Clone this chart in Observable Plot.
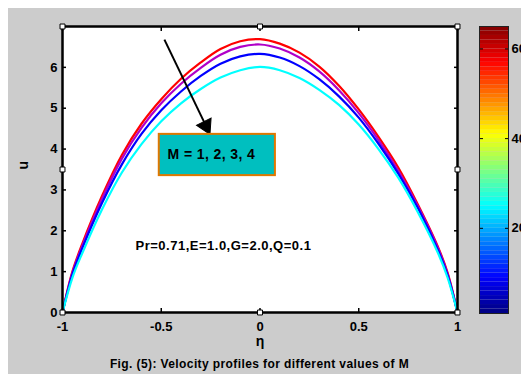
<!DOCTYPE html>
<html><head><meta charset="utf-8">
<script src="https://cdn.jsdelivr.net/npm/d3@7"></script>
<script src="https://cdn.jsdelivr.net/npm/@observablehq/plot@0.6"></script>
<style>
html,body{margin:0;padding:0;background:#fff;}
#wrap{position:relative;width:521px;height:378px;overflow:hidden;background:#fff;font-family:"Liberation Sans",Arial,sans-serif;}
#bg{position:absolute;left:8px;top:8px;width:513px;height:366px;background:#cccccc;}
#main,#cbar{position:absolute;top:0;}
#main{left:0;}
#cbar{left:479px;}
#cap{position:absolute;left:0;width:519px;top:357px;text-align:center;font-weight:bold;font-size:12px;letter-spacing:0.4px;color:#000;}
</style></head><body>
<div id="wrap"><div id="bg"></div><div id="main"></div><div id="cbar"></div><div id="cap">Fig. (5): Velocity profiles for different values of M</div></div>
<script>
// ---- data ----
const eta = [-1,-0.95,-0.9,-0.8,-0.7,-0.6,-0.5,-0.4,-0.3,-0.2,-0.1,0,0.1,0.2,0.3,0.4,0.5,0.6,0.7,0.8,0.9,0.95,1];
const uM1 = [0,1.00,1.68,2.85,3.85,4.62,5.22,5.72,6.12,6.45,6.64,6.69,6.58,6.36,6.02,5.55,4.97,4.30,3.55,2.64,1.62,0.97,0];
const uM2 = [0,0.97,1.63,2.78,3.76,4.52,5.12,5.60,5.99,6.31,6.50,6.56,6.46,6.24,5.90,5.44,4.88,4.22,3.47,2.60,1.59,0.94,0];
const uM3 = [0,0.93,1.57,2.68,3.62,4.37,4.95,5.41,5.79,6.09,6.27,6.33,6.24,6.03,5.71,5.29,4.77,4.13,3.40,2.55,1.54,0.91,0];
const uM4 = [0,0.85,1.45,2.52,3.42,4.12,4.68,5.12,5.47,5.75,5.93,6.01,5.93,5.74,5.45,5.08,4.60,4.00,3.30,2.45,1.47,0.85,0];
const seriesNames = ["M=1","M=2","M=3","M=4"];
const seriesColors = ["#ff0000","#b000c8","#0000ff","#00ffff"];
const xTicks = [-1,-0.5,0,0.5,1];
const yTicks = [0,1,2,3,4,5,6];
const cbarTicks = [20,40,60];
const boxLabel = "M = 1, 2, 3, 4";
const paramLabel = "Pr=0.71,E=1.0,G=2.0,Q=0.1";
// annotation anchor positions (data units)
const arrowPos = [{x1:-0.484,y1:6.68,x2:-0.262,y2:4.45}];
const boxPos = [{x1:-0.51,x2:0.078,y1:3.35,y2:4.36}];
const boxTextPos = [{x:-0.468,y:3.86}];
const paramPos = [{x:-0.185,y:1.64}];

const values = [uM1,uM2,uM3,uM4];
const font = '"Liberation Sans", Arial, sans-serif';
const lineMarks = values.map((v,k)=>Plot.line(eta.map((e,i)=>({eta:e,u:v[i]})),
  {x:"eta",y:"u",stroke:seriesColors[k],strokeWidth:2.2,curve:"catmull-rom"}));

const xd=[-1,1], yd=[0,7];
const handles=[];
[xd[0],(xd[0]+xd[1])/2,xd[1]].forEach(x=>[yd[0],(yd[0]+yd[1])/2,yd[1]].forEach(y=>{
  if(!(x===(xd[0]+xd[1])/2 && y===(yd[0]+yd[1])/2)) handles.push({x,y});}));

const blank=()=>"";
const main = Plot.plot({
  width:521,height:378,marginLeft:62,marginRight:64,marginTop:26,marginBottom:66,
  x:{domain:xd}, y:{domain:yd},
  style:{background:"transparent",fontFamily:font,fontWeight:"bold",fontSize:"13px",color:"black",overflow:"visible"},
  marks:[
    Plot.frame({fill:"white"}),
    ...lineMarks,
    Plot.axisX(xTicks,{anchor:"bottom",tickSize:0,tickPadding:9,tickFormat:d=>String(d),label:null,fontSize:13}),
    Plot.axisX(xTicks,{anchor:"bottom",tickSize:-4,tickFormat:blank,label:null,strokeWidth:1.5}),
    Plot.axisX(xTicks,{anchor:"top",tickSize:-4,tickFormat:blank,label:null,strokeWidth:1.5}),
    Plot.axisY(yTicks,{anchor:"left",tickSize:0,tickPadding:5,label:null,fontSize:13}),
    Plot.axisY(yTicks,{anchor:"left",tickSize:-4,tickFormat:blank,label:null,strokeWidth:1.5}),
    Plot.axisY(yTicks,{anchor:"right",tickSize:-4,tickFormat:blank,label:null,strokeWidth:1.5}),
    Plot.frame({stroke:"black",strokeWidth:2.5}),
    Plot.text(["η"],{frameAnchor:"bottom",dy:33,fontSize:14,fontWeight:"bold"}),
    Plot.text(["u"],{frameAnchor:"left",dx:-39,rotate:-90,fontSize:14,fontWeight:"bold"}),
    Plot.link(arrowPos,{x1:"x1",y1:"y1",x2:"x2",y2:"y2",stroke:"black",strokeWidth:2}),
    Plot.dot(arrowPos,{x:"x2",y:"y2",symbol:"triangle",r:6,rotate:154,fill:"black",stroke:"black",strokeWidth:1,dx:-2.4,dy:-4.8}),
    Plot.rect(boxPos,{x1:"x1",x2:"x2",y1:"y1",y2:"y2",fill:"#00bfbf",stroke:"#e07800",strokeWidth:2}),
    Plot.text(boxTextPos,{x:"x",y:"y",text:()=>boxLabel,textAnchor:"start",fontSize:14,fontWeight:"bold",className:"boxlbl"}),
    Plot.text(paramPos,{x:"x",y:"y",text:()=>paramLabel,fontSize:13,fontWeight:"bold",className:"paramlbl"}),
    Plot.dot(handles,{x:"x",y:"y",symbol:"square",r:2.8,fill:"white",stroke:"black",strokeWidth:1})
  ]
});
document.getElementById("main").appendChild(main);
d3.select(main).selectAll(".boxlbl text").attr("letter-spacing","0.4px");
d3.select(main).selectAll(".paramlbl text").attr("letter-spacing","0.5px");

// colorbar (jet colormap, 64 levels from 1 to 65)
function jet(t){const c=v=>Math.max(0,Math.min(1,v));
  const r=c(1.5-Math.abs(4*t-3)),g=c(1.5-Math.abs(4*t-2)),b=c(1.5-Math.abs(4*t-1));
  return d3.rgb(r*255,g*255,b*255).formatHex();}
const levels = d3.range(64).map(i=>({y1:1+i,y2:2+i,fill:jet((i+0.5)/64)}));
const cbar = Plot.plot({
  width:42,height:378,marginLeft:0,marginRight:13,marginTop:26,marginBottom:65,
  y:{domain:[1,65]},
  style:{background:"transparent",fontFamily:font,fontWeight:"bold",fontSize:"13px",color:"black",overflow:"visible"},
  marks:[
    Plot.rect(levels,{y1:"y1",y2:"y2",fill:"fill"}),
    Plot.axisY(cbarTicks,{anchor:"right",tickSize:0,tickPadding:3,label:null,fontSize:13}),
    Plot.axisY(cbarTicks,{anchor:"right",tickSize:-4,tickFormat:blank,label:null}),
    Plot.axisY(cbarTicks,{anchor:"left",tickSize:-4,tickFormat:blank,label:null}),
    Plot.frame({stroke:"#222",strokeWidth:1})
  ]
});
document.getElementById("cbar").appendChild(cbar);
</script></body></html>
